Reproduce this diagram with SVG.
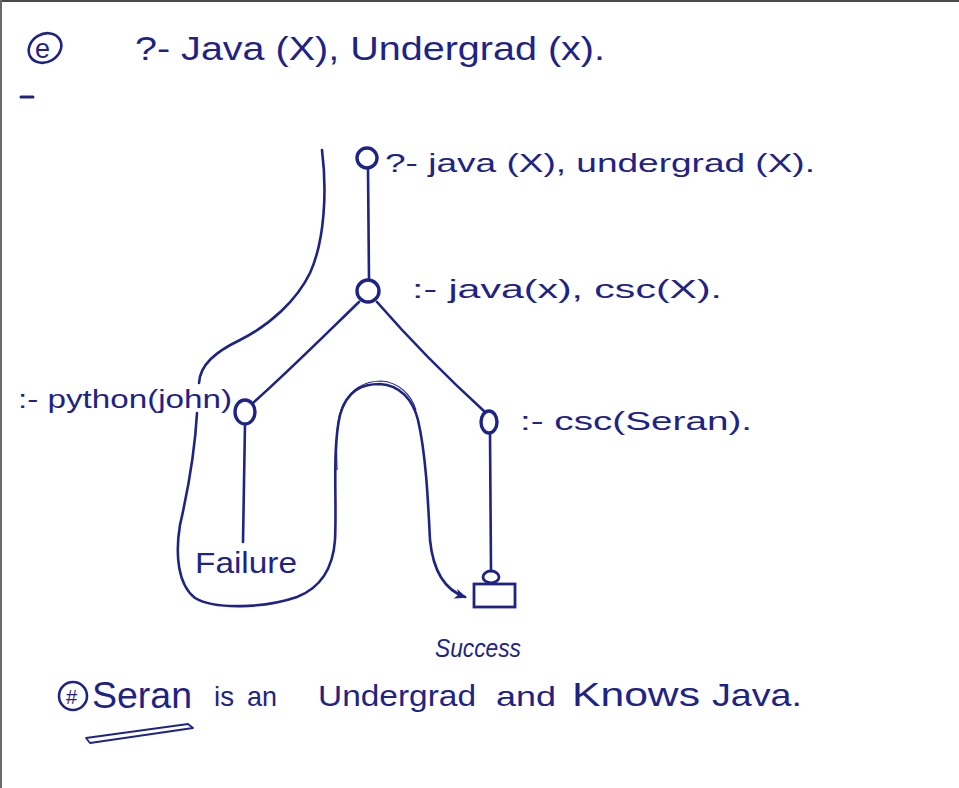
<svg xmlns="http://www.w3.org/2000/svg" width="959" height="788" viewBox="0 0 959 788">
<style>
.ink{fill:none;stroke:#1f2484;stroke-width:2.6;stroke-linecap:round;stroke-linejoin:round}
.node{fill:#ffffff;stroke:#1f2484;stroke-width:3.4}
.t{fill:#1f2484;font-family:"Liberation Sans","DejaVu Sans",sans-serif}
.lbl{font-size:25px}
</style>
<defs>
<marker id="arr" viewBox="0 0 12 10" refX="10" refY="5" markerWidth="12" markerHeight="10" markerUnits="userSpaceOnUse" orient="auto">
<path d="M0,0 L12,5 L0,10 L3,5 Z" fill="#1f2484"/>
</marker>
</defs>
<rect x="0" y="0" width="959" height="788" fill="#ffffff"/>
<line x1="0" y1="1" x2="959" y2="1" stroke="#4a4a4a" stroke-width="2"/>
<line x1="1" y1="0" x2="1" y2="788" stroke="#6a6a6a" stroke-width="2"/>

<g id="header">
<ellipse cx="45" cy="48" rx="17" ry="14" transform="rotate(-30 45 48)" fill="none" stroke="#1f2484" stroke-width="2.6"/>
<text class="t" x="35" y="58" font-size="27">e</text>
<line x1="21" y1="97" x2="33" y2="97" stroke="#1f2484" stroke-width="3" stroke-linecap="round"/>
<text class="t" x="135" y="60" font-size="34" textLength="470" lengthAdjust="spacingAndGlyphs">?- Java (X), Undergrad (x).</text>
</g>

<g id="connectors">
<path class="ink" d="M368,169 L369,280"/>
<path class="ink" d="M359,302 C330,330 290,370 253,403"/>
<path class="ink" d="M377,302 C410,340 450,380 485,412"/>
<path class="ink" d="M245,424 L243,542"/>
<path class="ink" d="M490,433 L491,571"/>
<path class="ink" d="M322,150 C327,190 325,240 310,273 C297,300 270,325 240,340 C215,352 200,365 199,383"/>
<path class="ink" marker-end="url(#arr)" d="M197,413 C195,450 188,490 180,525 C175,555 178,585 195,598 C215,610 265,608 297,597 C320,588 333,568 335,540 C337,500 332,450 340,415 C347,390 362,384 380,384 C400,385 413,400 418,420 C426,455 428,500 430,540 C433,570 445,590 465,597"/>
<path fill="none" stroke="#1f2484" stroke-width="1.2" d="M337,470 C336,440 336,420 343,405 C352,388 366,381 381,381 C398,382 411,394 416,410"/>
</g>

<g id="n1">
<circle class="node" cx="367" cy="158" r="10"/>
<text class="t lbl" x="385" y="172" textLength="430" lengthAdjust="spacingAndGlyphs">?- java (X), undergrad (X).</text>
</g>

<g id="n2">
<circle class="node" cx="368" cy="291" r="11"/>
<text class="t lbl" x="412" y="298" textLength="310" lengthAdjust="spacingAndGlyphs">:- java(x), csc(X).</text>
</g>

<g id="n3">
<ellipse class="node" cx="245" cy="412" rx="10" ry="12"/>
<text class="t lbl" x="18" y="408" textLength="214" lengthAdjust="spacingAndGlyphs">:- python(john)</text>
</g>

<g id="n4">
<ellipse class="node" cx="489" cy="422" rx="8" ry="11"/>
<text class="t lbl" x="520" y="430" textLength="232" lengthAdjust="spacingAndGlyphs">:- csc(Seran).</text>
</g>

<g id="failure">
<text class="t" x="195" y="573" font-size="30" textLength="102" lengthAdjust="spacingAndGlyphs">Failure</text>
</g>

<g id="success">
<ellipse cx="491" cy="577" rx="8" ry="6" fill="#ffffff" stroke="#1f2484" stroke-width="2.8"/>
<rect x="474" y="584" width="41" height="23" fill="#ffffff" stroke="#1f2484" stroke-width="2.8"/>
<text class="t" x="435" y="657" font-size="26" font-style="italic" textLength="86" lengthAdjust="spacingAndGlyphs">Success</text>
</g>

<g id="footer">
<circle cx="73" cy="696" r="14" fill="none" stroke="#1f2484" stroke-width="2.6"/>
<text class="t" x="66" y="704" font-size="20">#</text>
<text class="t" x="92" y="708" font-size="36" textLength="100" lengthAdjust="spacingAndGlyphs">Seran</text>
<path fill="none" stroke="#1f2484" stroke-width="1.8" stroke-linejoin="round" d="M86,738 L188,724 L193,728 L90,743 Z"/>
<text class="t" x="214" y="706" font-size="28" textLength="20" lengthAdjust="spacingAndGlyphs">is</text>
<text class="t" x="247" y="706" font-size="28" textLength="30" lengthAdjust="spacingAndGlyphs">an</text>
<text class="t" x="318" y="706" font-size="30" textLength="158" lengthAdjust="spacingAndGlyphs">Undergrad</text>
<text class="t" x="496" y="706" font-size="28" textLength="60" lengthAdjust="spacingAndGlyphs">and</text>
<text class="t" x="572" y="706" font-size="34" textLength="128" lengthAdjust="spacingAndGlyphs">Knows</text>
<text class="t" x="712" y="706" font-size="32" textLength="90" lengthAdjust="spacingAndGlyphs">Java.</text>
</g>
</svg>
